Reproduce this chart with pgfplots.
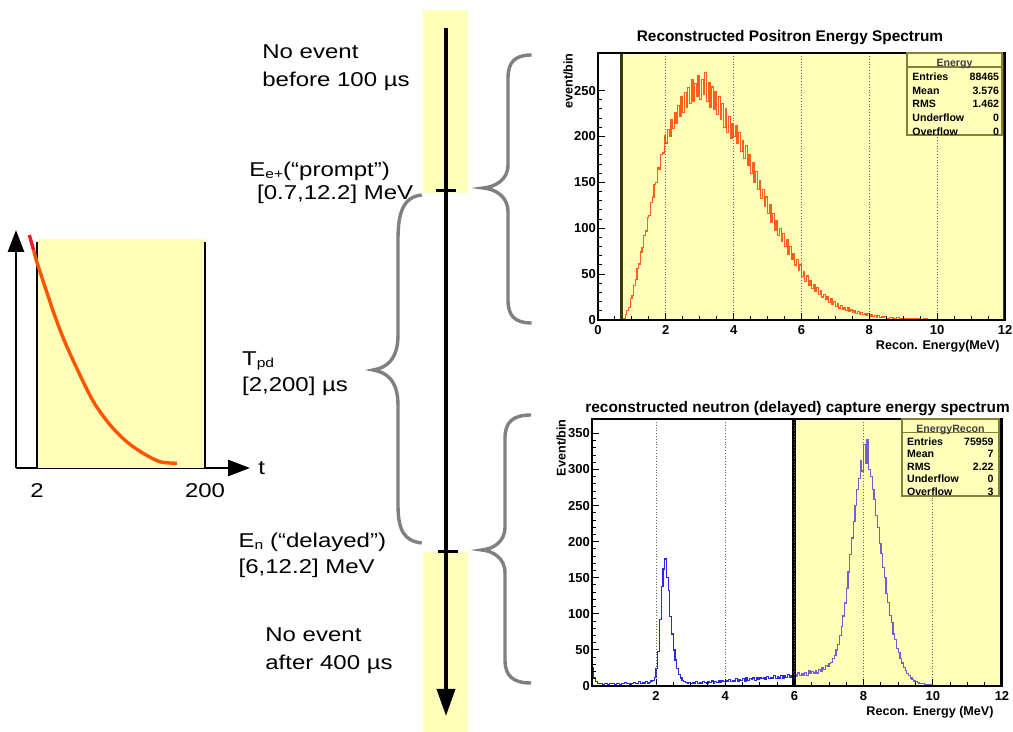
\documentclass[border=0pt]{standalone}
\usepackage{fontspec}
\setmainfont{Liberation Sans}
\newfontfamily\dfont[FakeStretch=1.2]{Liberation Sans}
\usepackage{pgfplots}
\pgfplotsset{compat=1.18}
\usetikzlibrary{arrows.meta}
\definecolor{ylw}{RGB}{255,255,185}
\definecolor{horange}{RGB}{255,95,30}
\definecolor{hblue}{RGB}{40,40,235}
\definecolor{hpurple}{RGB}{115,95,205}
\definecolor{olivedk}{RGB}{60,60,10}
\definecolor{boxol}{RGB}{130,130,50}
\definecolor{brgray}{RGB}{128,128,128}
\definecolor{cred}{RGB}{235,30,30}
\definecolor{corange}{RGB}{255,85,0}

\pgfplotstableread{
0.70 0
0.75 2
0.80 6
0.85 10
0.90 14
0.95 23
1.00 27
1.05 38
1.10 44
1.15 56
1.20 61
1.25 74
1.30 79
1.35 92
1.40 97
1.45 112
1.50 114
1.55 128
1.60 134
1.65 148
1.70 150
1.75 166
1.80 164
1.85 180
1.90 182
1.95 201
2.00 193
2.05 208
2.10 200
2.15 218
2.20 209
2.25 226
2.30 214
2.35 234
2.40 222
2.45 243
2.50 226
2.55 248
2.60 232
2.65 253
2.70 236
2.75 262
2.80 238
2.85 258
2.90 244
2.95 266
3.00 240
3.05 262
3.10 246
3.15 270
3.20 238
3.25 259
3.30 232
3.35 254
3.40 230
3.45 249
3.50 224
3.55 244
3.60 219
3.65 236
3.70 210
3.75 230
3.80 204
3.85 222
3.90 198
3.95 214
4.00 200
4.05 212
4.10 192
4.15 204
4.20 184
4.25 196
4.30 176
4.35 190
4.40 168
4.45 180
4.50 160
4.55 172
4.60 150
4.65 162
4.70 142
4.75 152
4.80 132
4.85 142
4.90 124
4.95 134
5.00 116
5.05 126
5.10 106
5.15 116
5.20 98
5.25 108
5.30 92
5.35 100
5.40 86
5.45 94
5.50 80
5.55 88
5.60 72
5.65 80
5.70 66
5.75 72
5.80 60
5.85 66
5.90 54
5.95 60
6.00 47
6.05 53
6.10 42
6.15 48
6.20 38
6.25 43
6.30 34
6.35 39
6.40 31
6.45 35
6.50 28
6.55 32
6.60 25
6.65 28
6.70 22
6.75 26
6.80 19
6.85 23
6.90 17
6.95 20
7.00 15
7.05 18
7.10 13
7.15 16
7.20 12
7.25 14
7.30 10
7.35 13
7.40 9
7.45 11
7.50 8
7.55 10
7.60 7
7.65 9
7.70 6
7.75 8
7.80 6
7.85 7
7.90 5
7.95 7
8.00 4
8.05 6
8.10 4
8.15 5
8.20 3
8.25 5
8.30 3
8.35 4
8.40 2.5
8.45 4
8.50 2
8.60 3
8.70 2
8.80 2.5
8.90 1.5
9.00 2
9.10 1.2
9.20 1.6
9.30 1
9.40 1.3
9.50 0.8
9.60 1.1
9.70 0.7
9.80 0.9
9.90 0.5
10.0 0.8
10.2 0.4
10.4 0.6
10.6 0.3
10.8 0.4
11.0 0.2
11.3 0.3
11.6 0.1
12.0 0.1
}\positron

\pgfplotstableread{
0.15 25
0.20 12
0.25 6
0.30 4
0.35 3
0.40 4
0.45 2
0.50 3
0.55 4
0.60 2
0.65 3
0.70 4
0.75 3
0.80 2
0.85 4
0.90 3
0.95 2
1.00 4
1.05 3
1.10 5
1.15 3
1.20 4
1.25 2
1.30 4
1.35 5
1.40 3
1.45 4
1.50 6
1.55 3
1.60 5
1.65 4
1.70 6
1.75 4
1.80 5
1.85 7
1.90 8
1.95 12
2.00 24
2.05 48
2.10 92
2.15 138
2.20 162
2.25 176
2.30 150
2.35 132
2.40 96
2.45 72
2.50 50
2.55 36
2.60 24
2.65 16
2.70 11
2.75 8
2.80 6
2.85 5
2.90 4
2.95 5
3.00 3
3.05 5
3.10 4
3.15 6
3.20 4
3.25 5
3.30 3
3.35 6
3.40 5
3.45 4
3.50 6
3.55 5
3.60 7
3.65 4
3.70 6
3.75 5
3.80 8
3.85 5
3.90 7
3.95 6
4.00 8
4.05 6
4.10 9
4.15 6
4.20 8
4.25 7
4.30 10
4.35 7
4.40 9
4.45 8
4.50 10
4.55 7
4.60 11
4.65 8
4.70 10
4.75 9
4.80 11
4.85 8
4.90 12
4.95 9
5.00 11
5.05 10
5.10 12
5.15 9
5.20 13
5.25 10
5.30 12
5.35 11
5.40 14
5.45 10
5.50 13
5.55 11
5.60 15
5.65 11
5.70 14
5.75 12
5.80 16
5.85 12
5.90 15
5.95 13
6.00 13
}\neutronlow

\pgfplotstableread{
6.00 16
6.05 13
6.10 18
6.15 14
6.20 17
6.25 15
6.30 19
6.35 15
6.40 21
6.45 17
6.50 20
6.55 18
6.60 22
6.65 18
6.70 23
6.75 20
6.80 25
6.85 23
6.90 28
6.95 27
7.00 31
7.05 33
7.10 38
7.15 42
7.20 50
7.25 58
7.30 70
7.35 82
7.40 97
7.45 115
7.50 135
7.55 158
7.60 182
7.65 205
7.70 228
7.75 250
7.80 272
7.85 288
7.90 312
7.95 298
8.00 335
8.05 308
8.10 342
8.15 300
8.20 290
8.25 272
8.30 258
8.35 236
8.40 220
8.45 198
8.50 184
8.55 164
8.60 150
8.65 128
8.70 116
8.75 98
8.80 88
8.85 72
8.90 64
8.95 52
9.00 46
9.05 38
9.10 32
9.15 26
9.20 22
9.25 17
9.30 14
9.35 11
9.40 9
9.45 7
9.50 6
9.55 5
9.60 4
9.65 3
9.70 3
9.75 2
9.80 2
9.90 1.5
10.0 1
10.2 0.8
10.4 0.5
10.6 0.4
10.8 0.3
11.0 0.2
11.5 0.1
12.0 0
}\neutronhigh

\begin{document}
\begin{tikzpicture}
\useasboundingbox (0pt,0pt) rectangle (506.5pt,-366pt);

% yellow bands on the time line
\begin{scope}[x=0.5pt,y=-0.5pt]
\fill[ylw] (423,10) rectangle (468,193);
\fill[ylw] (423,552) rectangle (468,732);
\end{scope}

% ---------- small decay sketch ----------
\begin{axis}[at={(8pt,-234pt)}, anchor=south west, scale only axis,
  width=117pt, height=119pt,
  xmin=-22.8, xmax=253, ymin=0, ymax=1,
  axis lines=left,
  axis line style={line width=1.4pt, -{Triangle[length=11pt,width=8pt]}},
  xtick={2,200}, ytick=\empty, major tick length=0pt,
  /pgf/number format/assume math mode=true,
  xticklabel style={font=\dfont\fontsize{10}{12}\selectfont, yshift=-4pt},
  clip=false]
\addplot[draw=none, fill=ylw] coordinates {(2,0) (2,0.962) (200,0.962) (200,0)} -- cycle;
\addplot[black, line width=1.3pt] coordinates {(2,0) (2,0.948)};
\addplot[black, line width=1.3pt] coordinates {(200,0) (200,0.948)};
\addplot[corange, line width=1.7pt, smooth] coordinates {(-2.0,0.915) (1.65,0.867) (9.4,0.783) (21.2,0.657) (33.0,0.545) (48.8,0.419) (68.4,0.279) (88.1,0.181) (107.8,0.110) (127.4,0.061) (147.0,0.026) (166.7,0.020)};
\addplot[cred, line width=1.7pt] coordinates {(-7.1,0.979) (-2.0,0.915)};
\end{axis}

% ---------- positron spectrum ----------
\begin{axis}[at={(299pt,-160pt)}, anchor=south west, scale only axis,
  width=203.5pt, height=133.5pt,
  xmin=0, xmax=12, ymin=0, ymax=291,
  xtick={0,2,...,12}, ytick={0,50,...,250},
  minor x tick num=3, minor y tick num=4,
  tick pos=left, tick align=inside,
  major tick length=3.5pt, minor tick length=1.8pt,
  xmajorgrids, major grid style={densely dotted, black!60, line width=0.4pt},
  axis on top, axis line style={line width=0.6pt},
  tick style={black, line width=0.5pt},
  every tick label/.append style={font=\bfseries\fontsize{6.5}{7}\selectfont},
  /pgf/number format/assume math mode=true,
  xticklabel style={yshift=1pt}, yticklabel style={xshift=2.5pt}]
\addplot[draw=none, fill=ylw] coordinates {(0.7,0) (0.7,291) (12,291) (12,0)} -- cycle;
\addplot[const plot, draw=horange, line width=0.6pt] table {\positron};
\addplot[olivedk, line width=1.7pt] coordinates {(0.7,0) (0.7,291)};
\addplot[olivedk, line width=1.7pt] coordinates {(12,0) (12,291)};
\end{axis}

% ---------- neutron spectrum ----------
\begin{axis}[at={(296pt,-343pt)}, anchor=south west, scale only axis,
  width=205pt, height=133.5pt,
  xmin=0.15, xmax=12, ymin=0, ymax=370,
  xtick={2,4,...,12}, ytick={0,50,...,350},
  minor x tick num=3, minor y tick num=4,
  tick pos=left, tick align=inside,
  major tick length=3.5pt, minor tick length=1.8pt,
  xmajorgrids, major grid style={densely dotted, black!60, line width=0.4pt},
  axis on top, axis line style={line width=0.6pt},
  tick style={black, line width=0.5pt},
  every tick label/.append style={font=\bfseries\fontsize{6.5}{7}\selectfont},
  /pgf/number format/assume math mode=true,
  xticklabel style={yshift=1pt}, yticklabel style={xshift=2.5pt}]
\addplot[draw=none, fill=ylw] coordinates {(6,0) (6,370) (12,370) (12,0)} -- cycle;
\addplot[const plot, draw=hblue, line width=0.6pt] table {\neutronlow};
\addplot[const plot, draw=hpurple, line width=0.6pt] table {\neutronhigh};
\addplot[black, line width=2pt] coordinates {(6,0) (6,370)};
\addplot[black, line width=1.6pt] coordinates {(12,0) (12,370)};
\end{axis}

\begin{scope}[x=0.5pt,y=-0.5pt]
% time line
\draw[line width=1.8pt, -{Triangle[length=13.5pt,width=9pt]}] (446,28) -- (446,716);
\draw[line width=1.5pt] (436,190.7) -- (456,190.7);
\draw[line width=1.5pt] (438,551.7) -- (458,551.7);
% braces
\draw[brgray, line width=1.7pt] (421.7,195) .. controls (402,197) and (398,215) .. (398,240) -- (398,335) .. controls (398,360) and (386,368) .. (373,370) .. controls (386,372) and (398,380) .. (398,405) -- (398,505) .. controls (398,530) and (404,541) .. (421.7,543);
\draw[brgray, line width=1.7pt] (531.7,55) .. controls (515,55) and (508,62) .. (508,78) -- (508,165) .. controls (508,180) and (495,187) .. (483,188) .. controls (495,189) and (508,196) .. (508,212) -- (508,300) .. controls (508,316) and (515,323) .. (531.7,323);
\draw[brgray, line width=1.7pt] (531,415) .. controls (513,415) and (505,422) .. (505,438) -- (505,527) .. controls (505,542) and (493,549) .. (481.7,550) .. controls (493,551) and (505,558) .. (505,573) -- (505,660) .. controls (505,676) and (513,683) .. (531,683);

% diagram text
\begingroup
\dfont\fontsize{10}{12}\selectfont
\node[anchor=base west, inner sep=0pt] at (262,59) {No event};
\node[anchor=base west, inner sep=0pt] at (262,87) {before 100 µs};
\node[anchor=base west, inner sep=0pt] at (249,177) {E\raisebox{-1pt}{\fontsize{6.5}{7}\selectfont e+}(“prompt”)};
\node[anchor=base west, inner sep=0pt] at (256.7,200) {[0.7,12.2] MeV};
\node[anchor=base west, inner sep=0pt] at (241.7,366) {T\raisebox{-1pt}{\fontsize{6.5}{7}\selectfont pd}};
\node[anchor=base west, inner sep=0pt] at (241.7,392) {[2,200] µs};
\node[anchor=base west, inner sep=0pt] at (238.3,548) {E\raisebox{-1pt}{\fontsize{6.5}{7}\selectfont n} (“delayed”)};
\node[anchor=base west, inner sep=0pt] at (238.3,574) {[6,12.2] MeV};
\node[anchor=base west, inner sep=0pt] at (265,642) {No event};
\node[anchor=base west, inner sep=0pt] at (265,669) {after 400 µs};
\node[anchor=base west, inner sep=0pt] at (258,475) {t};
\endgroup

% histogram titles and labels
\node[anchor=base, inner sep=0pt, font=\bfseries\fontsize{7.7}{9}\selectfont] at (790,41.5) {Reconstructed Positron Energy Spectrum};
\node[anchor=base west, inner sep=0pt, font=\bfseries\fontsize{7.7}{9}\selectfont] at (585,412.2) {reconstructed neutron (delayed) capture energy spectrum};
\node[anchor=base east, inner sep=0pt, font=\bfseries\fontsize{6.3}{7}\selectfont] at (1000,349.5) {Recon. Energy(MeV)};
\node[anchor=base east, inner sep=0pt, font=\bfseries\fontsize{6.3}{7}\selectfont] at (994,715) {Recon. Energy (MeV)};
\node[anchor=base east, inner sep=0pt, rotate=90, font=\bfseries\fontsize{6.3}{7}\selectfont] at (572.5,53) {event/bin};
\node[anchor=base east, inner sep=0pt, rotate=90, font=\bfseries\fontsize{6.3}{7}\selectfont] at (565.5,419) {Event/bin};

% stats box 1
\filldraw[fill=ylw, draw=boxol, line width=0.6pt] (907,53) rectangle (1002,135);
\draw[boxol, line width=0.6pt] (907,67) -- (1002,67);
\begingroup
\bfseries\fontsize{5.3}{6}\selectfont
\node[anchor=base, inner sep=0pt, text=black!75] at (954.5,66.5) {Energy};
\node[anchor=base west, inner sep=0pt] at (912,80.5) {Entries};
\node[anchor=base east, inner sep=0pt] at (999.5,80.5) {88465};
\node[anchor=base west, inner sep=0pt] at (912,94.5) {Mean};
\node[anchor=base east, inner sep=0pt] at (999.5,94.5) {3.576};
\node[anchor=base west, inner sep=0pt] at (912,107.8) {RMS};
\node[anchor=base east, inner sep=0pt] at (999.5,107.8) {1.462};
\node[anchor=base west, inner sep=0pt] at (912,121.8) {Underflow};
\node[anchor=base east, inner sep=0pt] at (999.5,121.8) {0};
\node[anchor=base west, inner sep=0pt] at (912,135.5) {Overflow};
\node[anchor=base east, inner sep=0pt] at (999.5,135.5) {0};
\endgroup

% stats box 2
\filldraw[fill=ylw, draw=boxol, line width=0.6pt] (902,419) rectangle (999,496);
\draw[boxol, line width=0.6pt] (902,432.3) -- (999,432.3);
\begingroup
\bfseries\fontsize{5.3}{6}\selectfont
\node[anchor=base, inner sep=0pt, text=black!75] at (950.5,432.5) {EnergyRecon};
\node[anchor=base west, inner sep=0pt] at (906.7,445.5) {Entries};
\node[anchor=base east, inner sep=0pt] at (994,445.5) {75959};
\node[anchor=base west, inner sep=0pt] at (906.7,457.5) {Mean};
\node[anchor=base east, inner sep=0pt] at (994,457.5) {7};
\node[anchor=base west, inner sep=0pt] at (906.7,470.5) {RMS};
\node[anchor=base east, inner sep=0pt] at (994,470.5) {2.22};
\node[anchor=base west, inner sep=0pt] at (906.7,483) {Underflow};
\node[anchor=base east, inner sep=0pt] at (994,483) {0};
\node[anchor=base west, inner sep=0pt] at (906.7,495.5) {Overflow};
\node[anchor=base east, inner sep=0pt] at (994,495.5) {3};
\endgroup
\end{scope}
\end{tikzpicture}
\end{document}
